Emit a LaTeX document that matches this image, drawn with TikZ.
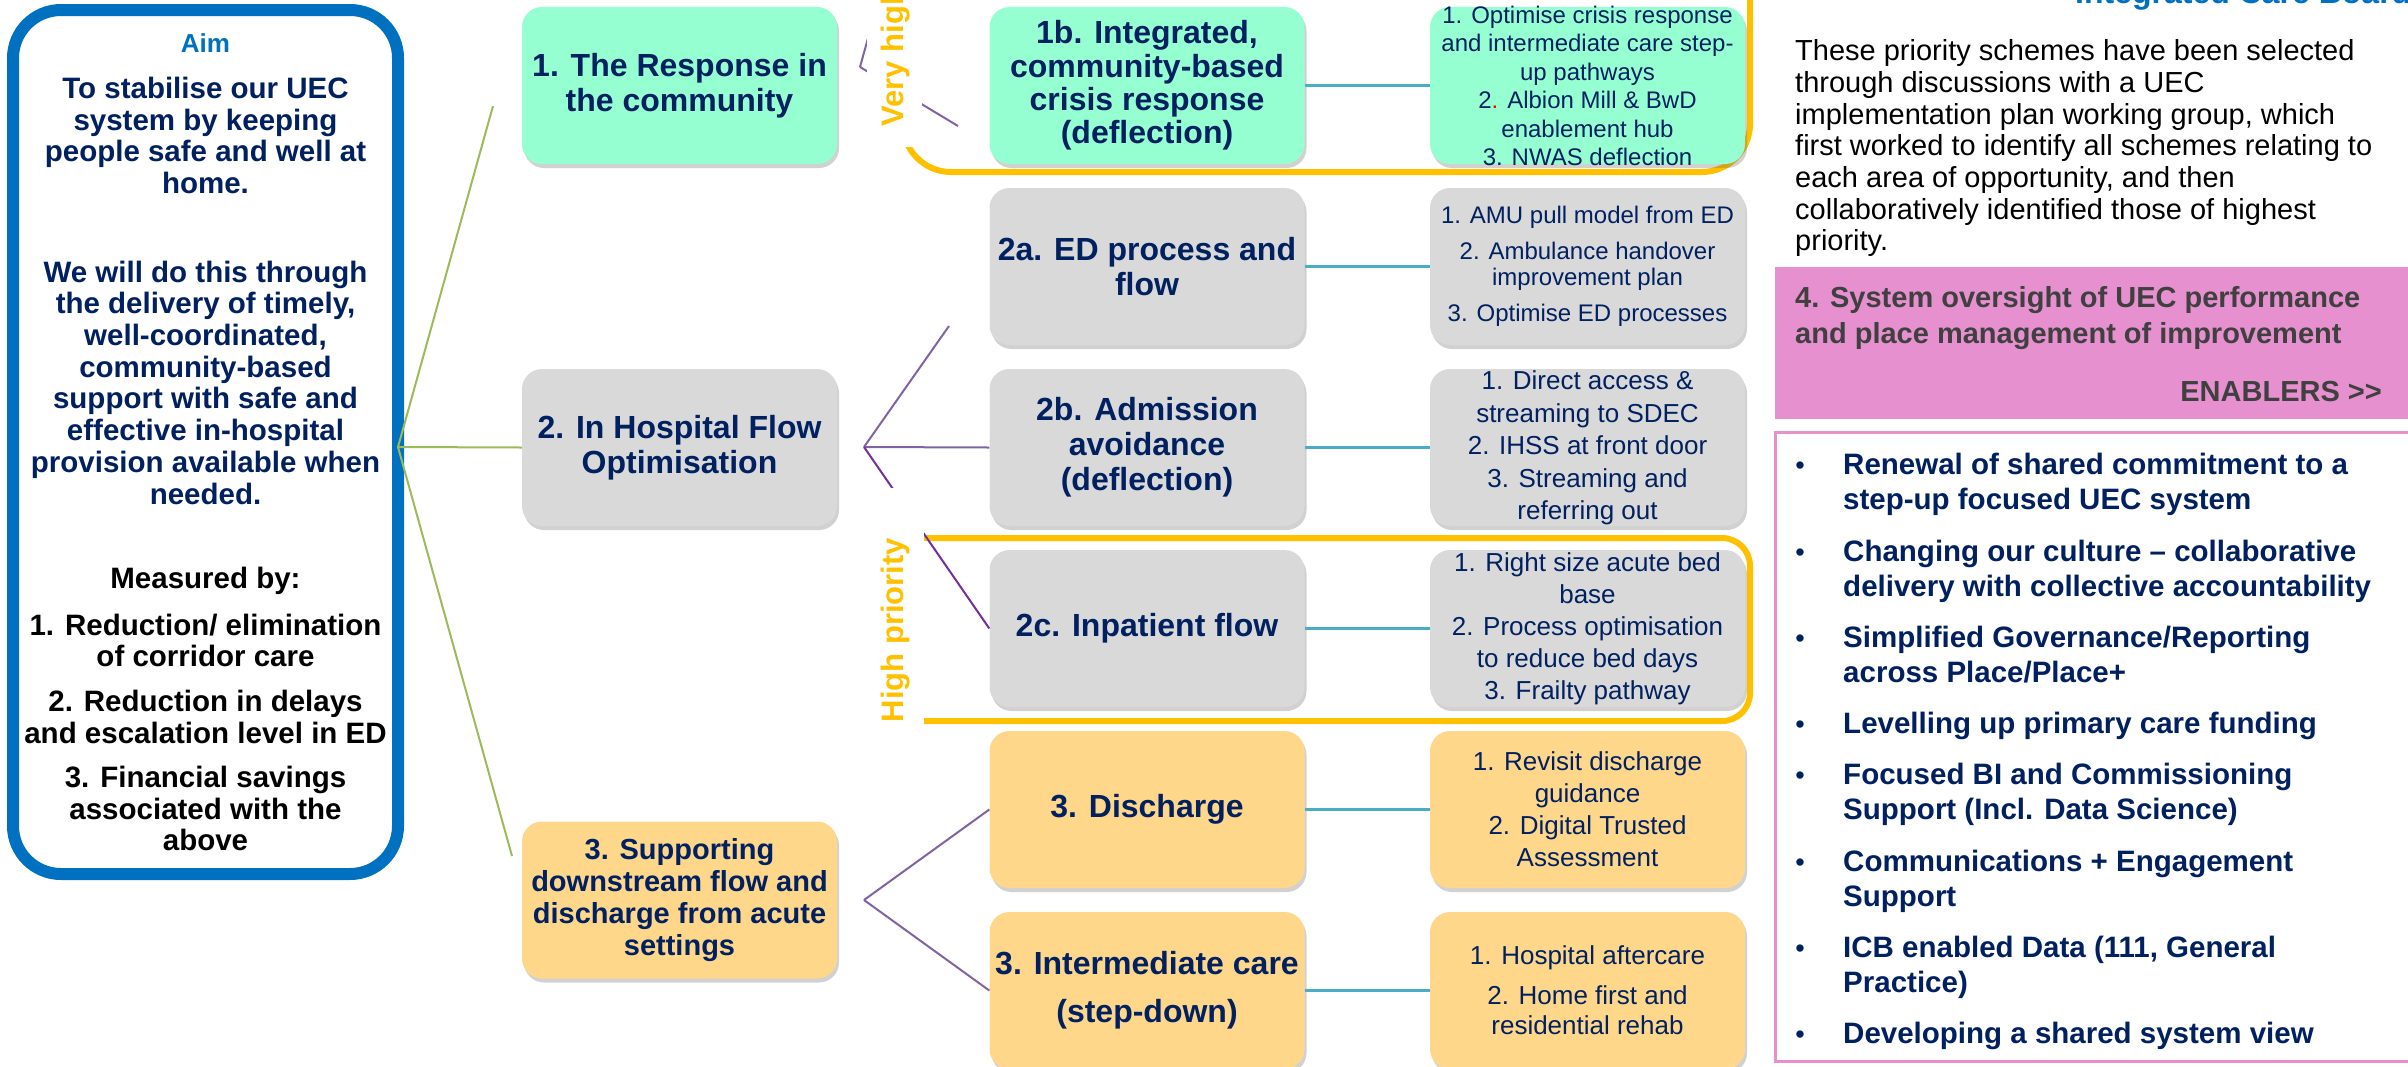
\documentclass[tikz,border=0pt]{standalone}
\usepackage{fontspec}
\setmainfont{Liberation Sans}
\usetikzlibrary{shadows}
\definecolor{navy}{RGB}{0,32,96}
\definecolor{aimblue}{RGB}{0,112,192}
\definecolor{mint}{RGB}{150,255,210}
\definecolor{greyb}{RGB}{217,217,217}
\definecolor{orangeb}{RGB}{255,215,138}
\definecolor{yframe}{RGB}{255,192,0}
\definecolor{gline}{RGB}{155,187,89}
\definecolor{pline}{RGB}{128,100,162}
\definecolor{pline2}{RGB}{112,48,160}
\definecolor{bline}{RGB}{75,172,198}
\definecolor{pinkc}{RGB}{230,144,208}
\definecolor{dgrey}{RGB}{64,64,64}
\newcommand{\myfs}[2]{\fontsize{#1}{#2}\selectfont}
\begin{document}
\begin{tikzpicture}[x=1pt,y=-1pt,
  shad/.style={drop shadow={shadow xshift=2pt,shadow yshift=-4pt,opacity=0.3,fill=black!60}},
  boxbase/.style={rounded corners=20pt, minimum width=315pt, minimum height=157pt, inner sep=0pt, align=center, shad},
  lone/.style={boxbase, text=navy, font=\myfs{32}{35}\bfseries},
  ltwo/.style={boxbase, text=navy, font=\myfs{32}{35}\bfseries},
  lthree/.style={boxbase, text=navy, font=\myfs{26}{32.5}},
  ltext/.style={inner sep=0pt, align=center, text=navy},
  aimtxt/.style={inner sep=0pt, align=center, text=navy, font=\myfs{29.5}{31.7}\bfseries},
  gl/.style={draw=gline, line width=2pt},
  pl/.style={draw=pline, line width=2pt},
  pl2/.style={draw=pline2, line width=2pt},
  bl/.style={draw=bline, line width=3pt},
  yfr/.style={draw=yframe, line width=6pt},
  prio/.style={inner sep=0pt, text=yframe, font=\myfs{31}{34}\bfseries},
  eitem/.style={anchor=north west, align=left, inner sep=0pt, text=navy, font=\myfs{29.5}{35}\bfseries},
  bul/.style={anchor=base, inner sep=0pt, text=navy, font=\myfs{27}{30}}
]
\useasboundingbox (0,0) rectangle (2408,1066);
\clip (0,0) rectangle (2408,1066);

% Aim box
\draw[draw=aimblue, line width=12pt, fill=white, rounded corners=48pt, shad] (13,10) rectangle (398,874);
\node[inner sep=0pt, text=aimblue, font=\myfs{26}{28}\bfseries] (aimt) at (205.5,43) {Aim};
\node[aimtxt] (aim1) at (205.5,135.5) {To stabilise our UEC\\system by keeping\\people safe and well at\\home.};
\node[aimtxt] (aim2) at (205.5,382.5) {We will do this through\\the delivery of timely,\\well-coordinated,\\community-based\\support with safe and\\effective in-hospital\\provision available when\\needed.};
\node[aimtxt, text=black] (meas) at (205.5,581) {Measured by:};
\node[aimtxt, text=black] (meas2) at (205.5,732.5) {1. Reduction/ elimination\\of corridor care\\[12.8pt]2. Reduction in delays\\and escalation level in ED\\[12.8pt]3. Financial savings\\associated with the\\above};

% priority frames
\draw[yfr, rounded corners=48pt] (903,-60) rectangle (1750,172);
\draw[yfr, rounded corners=28pt] (880,538) rectangle (1750,721);

% level 1
\node[lone, fill=mint] (n1) at (679.5,85.5) {1. The Response in\\the community};
\node[lone, fill=greyb] (n2) at (679.5,447.5) {2. In Hospital Flow\\Optimisation};
\node[lone, fill=orangeb, font=\myfs{29}{32}\bfseries] (n3) at (679.5,900) {3. Supporting\\downstream flow and\\discharge from acute\\settings};

% level 2
\node[ltwo, fill=mint, font=\myfs{32}{33.4}\bfseries] (m1b) at (1147,85.5) {1b. Integrated,\\community-based\\crisis response\\(deflection)};
\node[ltwo, fill=greyb] (m2a) at (1147,266.5) {2a. ED process and\\flow};
\node[ltwo, fill=greyb] (m2b) at (1147,447.5) {2b. Admission\\avoidance\\(deflection)};
\node[ltwo, fill=greyb] (m2c) at (1147,628.5) {2c. Inpatient flow};
\node[ltwo, fill=orangeb] (m3d) at (1147,809.5) {3. Discharge};
\node[ltwo, fill=orangeb] (m3i) at (1147,990.5) {3. Intermediate care\\[13pt](step-down)};

% level 3
\node[lthree, fill=mint] (r1b) at (1587.5,85.5) {};
\node[ltext, font=\myfs{24}{28.5}] (r1bt) at (1587.5,86) {1. Optimise crisis response\\and intermediate care step-\\up pathways\\2{\color{red}.} Albion Mill \& BwD\\enablement hub\\3. NWAS deflection};
\node[lthree, fill=greyb, font=\myfs{24}{26}] (r2a) at (1587.5,266.5) {1. AMU pull model from ED\\[10pt]2. Ambulance handover\\improvement plan\\[10pt]3. Optimise ED processes};
\node[lthree, fill=greyb] (r2b) at (1587.5,447.5) {};
\node[ltext, font=\myfs{26}{32.5}] (r2bt) at (1587.5,448) {1. Direct access \&\\streaming to SDEC\\2. IHSS at front door\\3. Streaming and\\referring out};
\node[lthree, fill=greyb, font=\myfs{26}{32}] (r2c) at (1587.5,628.5) {1. Right size acute bed\\base\\2. Process optimisation\\to reduce bed days\\3. Frailty pathway};
\node[lthree, fill=orangeb, font=\myfs{26}{32}] (r3d) at (1587.5,809.5) {1. Revisit discharge\\guidance\\2. Digital Trusted\\Assessment};
\node[lthree, fill=orangeb, font=\myfs{26}{30}] (r3i) at (1587.5,990.5) {1. Hospital aftercare\\[10pt]2. Home first and\\residential rehab};

% blue connectors
\draw[bl] (m1b) -- (r1b);
\draw[bl] (m2a) -- (r2a);
\draw[bl] (m2b) -- (r2b);
\draw[bl] (m2c) -- (r2c);
\draw[bl] (m3d) -- (r3d);
\draw[bl] (m3i) -- (r3i);

% green connectors
\coordinate (g0) at (398,447);
\coordinate (g1) at (493,106);
\coordinate (g3) at (512,856);
\draw[gl] (g0) -- (g1);
\draw[gl] (g0) -- (n2.west);
\draw[gl] (g0) -- (g3);

% purple connectors
\coordinate (v1) at (860,67);
\coordinate (v1a) at (880,-5);
\coordinate (v1b) at (958,126);
\coordinate (v2) at (864,447);
\coordinate (v2a) at (949,326);
\coordinate (v3) at (864,900);
\draw[pl] (v1) -- (v1a);
\draw[pl] (v1) -- (v1b);
\draw[pl] (v2) -- (v2a);
\draw[pl] (v2) -- (m2b.west);
\draw[pl2] (v2) -- (m2c.west);
\draw[pl] (v3) -- (m3d.west);
\draw[pl] (v3) -- (m3i.west);

% white label boxes and priority labels
\fill[white] (867,-100) rectangle (922,147);
\fill[white] (862,488) rectangle (924,760);
\node[prio, rotate=90] (vhp) at (896,-1) {Very high priority};
\node[prio, rotate=90] (hp) at (896,630) {High priority};

% right panel
\node[anchor=base west, inner sep=0pt, text=aimblue, font=\myfs{32}{35}\bfseries] (icb) at (2075,3) {Integrated Care Board};
\node[anchor=north west, align=left, inner sep=0pt, font=\myfs{29}{31.7}] (par) at (1795,39.5) {These priority schemes have been selected\\through discussions with a UEC\\implementation plan working group, which\\first worked to identify all schemes relating to\\each area of opportunity, and then\\collaboratively identified those of highest\\priority.};
\fill[pinkc] (1775,267) rectangle (2420,419);
\node[anchor=north west, align=left, inner sep=0pt, text=dgrey, font=\myfs{29}{36}\bfseries] (sys) at (1795,286.5) {4. System oversight of UEC performance\\and place management of improvement};
\node[anchor=east, inner sep=0pt, text=dgrey, font=\myfs{29}{32}\bfseries] (enab) at (2382,392) {ENABLERS >{}>};
\draw[draw=pinkc, line width=3pt, fill=white] (1775,432) rectangle (2420,1061);

\node[bul] (b1) at (1800,474.5) {•};
\node[eitem] (e1) at (1843,453.4) {Renewal of shared commitment to a\\step-up focused UEC system};
\node[bul] (b2) at (1800,561.5) {•};
\node[eitem] (e2) at (1843,540.4) {Changing our culture – collaborative\\delivery with collective accountability};
\node[bul] (b3) at (1800,647.5) {•};
\node[eitem] (e3) at (1843,626.4) {Simplified Governance/Reporting\\across Place/Place+};
\node[bul] (b4) at (1800,733.5) {•};
\node[eitem] (e4) at (1843,712.4) {Levelling up primary care funding};
\node[bul] (b5) at (1800,784.5) {•};
\node[eitem] (e5) at (1843,763.4) {Focused BI and Commissioning\\Support (Incl. Data Science)};
\node[bul] (b6) at (1800,871.5) {•};
\node[eitem] (e6) at (1843,850.4) {Communications + Engagement\\Support};
\node[bul] (b7) at (1800,957.5) {•};
\node[eitem] (e7) at (1843,936.4) {ICB enabled Data (111, General\\Practice)};
\node[bul] (b8) at (1800,1043.5) {•};
\node[eitem] (e8) at (1843,1022.4) {Developing a shared system view};
\end{tikzpicture}
\end{document}
